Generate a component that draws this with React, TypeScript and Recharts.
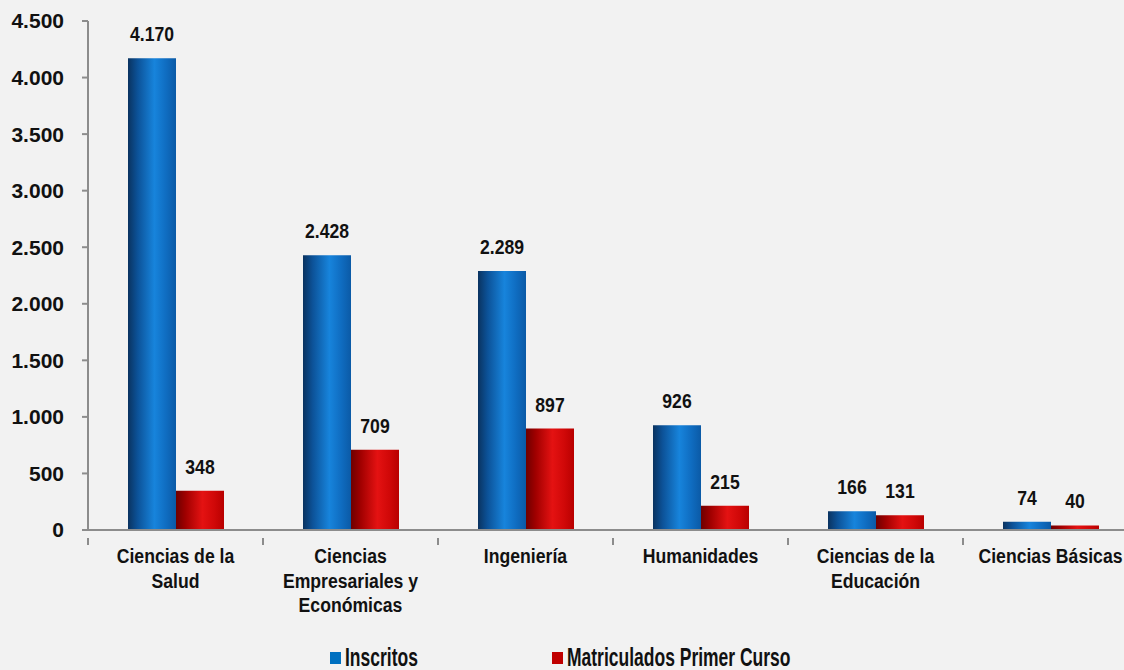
import { Bar, BarChart, LabelList, Legend, XAxis, YAxis } from "recharts";

const categories = [
  "Ciencias de la\nSalud",
  "Ciencias\nEmpresariales y\nEconómicas",
  "Ingeniería",
  "Humanidades",
  "Ciencias de la\nEducación",
  "Ciencias Básicas",
];
const inscritos = [4170, 2428, 2289, 926, 166, 74];
const matriculados = [348, 709, 897, 215, 131, 40];
const yTicks = [0, 500, 1000, 1500, 2000, 2500, 3000, 3500, 4000, 4500];

const SERIES = [
  { key: "inscritos", name: "Inscritos", color: "#0070c0", grad: "gradBlue", lx: 330 },
  { key: "matriculados", name: "Matriculados Primer Curso", color: "#c00000", grad: "gradRed", lx: 552 },
];

const data = categories.map((c, i) => ({
  cat: c,
  inscritos: inscritos[i],
  matriculados: matriculados[i],
}));

const FONT = "'Liberation Sans', Arial, sans-serif";
const CHART_W = 1140;
const Y_W = 88;
const MARGIN_R = 2;
const HALF_BAND = (CHART_W - Y_W - MARGIN_R) / categories.length / 2;

const fmt = (v: number): string => String(v).replace(/\B(?=(\d{3})+(?!\d))/g, ".");

// condensed bold text (no narrow font installed, so squeeze horizontally)
function NarrowText({ x, y, size, sx, anchor = "middle", children }: any) {
  return (
    <text
      transform={`translate(${x},${y}) scale(${sx},1)`}
      textAnchor={anchor}
      fontFamily={FONT}
      fontWeight="bold"
      fontSize={size}
      fill="#111"
    >
      {children}
    </text>
  );
}

function CategoryTick({ x, y, payload }: any) {
  const lines = String(payload.value).split("\n");
  return (
    <g>
      <line x1={x - HALF_BAND} y1={y} x2={x - HALF_BAND} y2={y + 7} stroke="#8c8c8c" strokeWidth={2} />
      {lines.map((l, i) => (
        <NarrowText key={i} x={x} y={y + 25 + i * 24.5} size={21} sx={0.84}>
          {l}
        </NarrowText>
      ))}
    </g>
  );
}

function BarValue({ x, y, width, value }: any) {
  return (
    <NarrowText x={x + width / 2} y={y - 17} size={20} sx={0.88}>
      {fmt(Number(value))}
    </NarrowText>
  );
}

function LegendContent() {
  return (
    <svg width={1124} height={40} style={{ display: "block", overflow: "visible" }}>
      {SERIES.map((s) => (
        <g key={s.key}>
          <rect x={s.lx} y={22} width={11} height={12} fill={s.color} />
          <NarrowText x={s.lx + 15} y={36} size={25} sx={0.7} anchor="start">
            {s.name}
          </NarrowText>
        </g>
      ))}
    </svg>
  );
}

export default function App() {
  return (
    <div
      style={{
        position: "absolute",
        left: 0,
        top: 0,
        width: 1124,
        height: 670,
        overflow: "hidden",
        background: "#f2f2f2",
      }}
    >
      <BarChart
        width={CHART_W}
        height={670}
        data={data}
        margin={{ top: 21, right: MARGIN_R, left: 0, bottom: 0 }}
        barSize={48}
        barGap={0}
      >
        <defs>
          <linearGradient id="gradBlue" x1="0" y1="0" x2="1" y2="0">
            <stop offset="0%" stopColor="#0a3360" />
            <stop offset="20%" stopColor="#0c5298" />
            <stop offset="55%" stopColor="#1784dc" />
            <stop offset="80%" stopColor="#0f6cc0" />
            <stop offset="100%" stopColor="#0b5aa6" />
          </linearGradient>
          <linearGradient id="gradRed" x1="0" y1="0" x2="1" y2="0">
            <stop offset="0%" stopColor="#6e0000" />
            <stop offset="20%" stopColor="#a00000" />
            <stop offset="55%" stopColor="#e41212" />
            <stop offset="80%" stopColor="#d00808" />
            <stop offset="100%" stopColor="#b80000" />
          </linearGradient>
        </defs>
        <XAxis
          dataKey="cat"
          height={100}
          interval={0}
          axisLine={{ stroke: "#8c8c8c", strokeWidth: 2 }}
          tickLine={false}
          tick={<CategoryTick />}
        />
        <YAxis
          width={Y_W}
          domain={[0, 4500]}
          ticks={yTicks}
          tickFormatter={fmt}
          axisLine={{ stroke: "#8c8c8c", strokeWidth: 2 }}
          tickLine={{ stroke: "#8c8c8c", strokeWidth: 2 }}
          tickSize={6}
          tickMargin={18}
          tick={{ fontFamily: FONT, fontWeight: "bold", fontSize: 21, fill: "#111" }}
        />
        <Legend verticalAlign="bottom" height={40} content={<LegendContent />} />
        {SERIES.map((s) => (
          <Bar key={s.key} dataKey={s.key} name={s.name} fill={`url(#${s.grad})`} isAnimationActive={false}>
            <LabelList dataKey={s.key} content={<BarValue />} />
          </Bar>
        ))}
      </BarChart>
    </div>
  );
}
